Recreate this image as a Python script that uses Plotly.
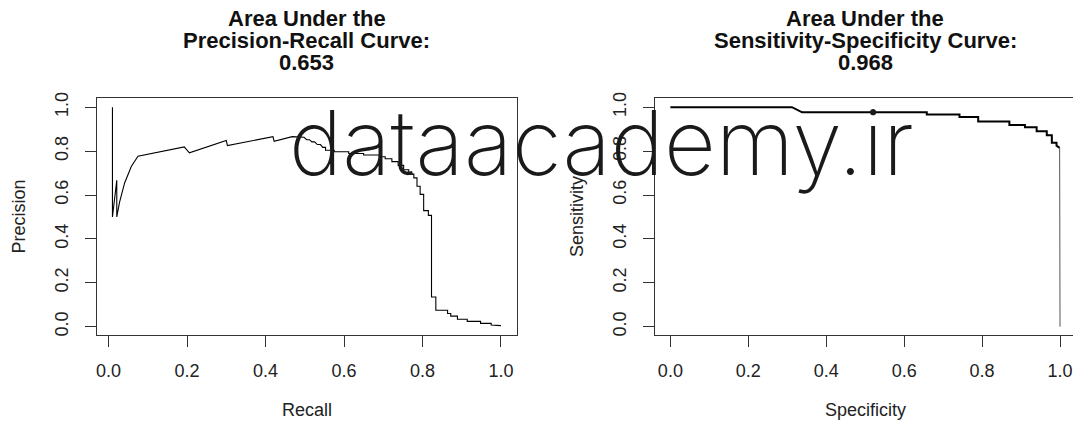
import plotly.graph_objects as go

# ---- data ----
recall = [0.010, 0.010, 0.021, 0.021, 0.028, 0.041, 0.058, 0.075, 0.193, 0.206,
          0.300, 0.303, 0.419, 0.422, 0.468, 0.498, 0.505, 0.512, 0.518, 0.525,
          0.532, 0.540, 0.546, 0.553, 0.553, 0.575, 0.575, 0.612, 0.612, 0.650,
          0.650, 0.690, 0.690, 0.705, 0.705, 0.722, 0.722, 0.738, 0.738, 0.752,
          0.752, 0.765, 0.765, 0.778, 0.778, 0.786, 0.786, 0.794, 0.794, 0.803,
          0.803, 0.815, 0.815, 0.823, 0.823, 0.834, 0.834, 0.864, 0.864, 0.872,
          0.872, 0.889, 0.889, 0.914, 0.914, 0.948, 0.948, 0.975, 0.975, 1.000]
precision = [1.000, 0.500, 0.667, 0.500, 0.566, 0.655, 0.730, 0.777, 0.819, 0.792,
             0.848, 0.825, 0.866, 0.845, 0.866, 0.863, 0.852, 0.852, 0.842, 0.842,
             0.830, 0.830, 0.817, 0.817, 0.804, 0.804, 0.797, 0.797, 0.789, 0.789,
             0.782, 0.782, 0.774, 0.774, 0.765, 0.765, 0.752, 0.752, 0.735, 0.735,
             0.715, 0.715, 0.695, 0.695, 0.678, 0.678, 0.640, 0.640, 0.603, 0.603,
             0.529, 0.529, 0.507, 0.507, 0.135, 0.135, 0.075, 0.075, 0.060, 0.060,
             0.048, 0.048, 0.034, 0.034, 0.024, 0.024, 0.015, 0.015, 0.008, 0.005]

specificity = [0.000, 0.312, 0.338, 0.658, 0.658, 0.742, 0.742, 0.790, 0.790, 0.870,
               0.870, 0.910, 0.910, 0.940, 0.940, 0.966, 0.966, 0.979, 0.979, 0.991,
               0.991, 0.999, 1.000]
sensitivity = [1.000, 1.000, 0.977, 0.977, 0.967, 0.967, 0.955, 0.955, 0.935, 0.935,
               0.919, 0.919, 0.909, 0.909, 0.890, 0.890, 0.872, 0.872, 0.838, 0.838,
               0.825, 0.815, 0.000]

tick_vals = [0.0, 0.2, 0.4, 0.6, 0.8, 1.0]
tick_text = ["0.0", "0.2", "0.4", "0.6", "0.8", "1.0"]

titles = [["Area Under the", "Precision-Recall Curve:", "0.653"],
          ["Area Under the", "Sensitivity-Specificity Curve:", "0.968"]]
x_titles = ["Recall", "Specificity"]
y_titles = ["Precision", "Sensitivity"]
watermark = "dataacademy.ir"

# ---- layout geometry (pixels) ----
W, H = 1073, 423
def px(x):
    return x / W
def py(y):
    return 1 - y / H

FONT = "Liberation Sans, Arial, Helvetica, sans-serif"
INK = "#222222"

fig = go.Figure()
fig.add_trace(go.Scatter(x=recall, y=precision, mode="lines",
                         line=dict(color="black", width=1.1),
                         xaxis="x", yaxis="y", showlegend=False))
n_top = len(specificity) - 1
fig.add_trace(go.Scatter(x=specificity[:n_top], y=sensitivity[:n_top], mode="lines",
                         line=dict(color="black", width=2),
                         xaxis="x2", yaxis="y2", showlegend=False))
fig.add_trace(go.Scatter(x=specificity[n_top - 1:], y=sensitivity[n_top - 1:], mode="lines",
                         line=dict(color="#555555", width=1),
                         xaxis="x2", yaxis="y2", showlegend=False))

axis_common = dict(showline=True, linecolor="#333333", linewidth=1,
                   ticks="outside", ticklen=11, tickcolor="#333333", tickwidth=1,
                   tickfont=dict(family=FONT, size=18, color=INK),
                   showgrid=False, zeroline=False,
                   tickvals=tick_vals, ticktext=tick_text, fixedrange=True)

y_dom = [py(335), py(94)]
fig.update_layout(
    width=W, height=H,
    margin=dict(l=0, r=0, t=0, b=0),
    paper_bgcolor="white", plot_bgcolor="white",
    xaxis=dict(domain=[px(96), px(516)], range=[-0.0296, 1.0396], anchor="y",
               mirror=True, ticklabelstandoff=8, **axis_common),
    yaxis=dict(domain=y_dom, range=[-0.04, 1.04], anchor="x",
               mirror=True, tickangle=-90, ticklabelstandoff=10, **axis_common),
    xaxis2=dict(domain=[px(655), 1.0], range=[-0.0385, 1.0333], anchor="y2",
                mirror=True, ticklabelstandoff=8, **axis_common),
    yaxis2=dict(domain=y_dom, range=[-0.04, 1.04], anchor="x2",
                tickangle=-90, ticklabelstandoff=10, **axis_common),
)

ann = []
centers = [306, 865]
for c, lines in zip(centers, titles):
    for i, t in enumerate(lines):
        ann.append(dict(text=f"<b>{t}</b>", x=px(c), y=py(13 + 22 * i),
                        xref="paper", yref="paper", showarrow=False,
                        xanchor="center", yanchor="middle",
                        font=dict(family=FONT, size=22, color="#111111")))
for c, t in zip(centers, x_titles):
    ann.append(dict(text=t, x=px(c), y=py(411), xref="paper", yref="paper",
                    showarrow=False, xanchor="center", yanchor="middle",
                    font=dict(family=FONT, size=18, color=INK)))
for xpix, t in zip([18, 577], y_titles):
    ann.append(dict(text=t, x=px(xpix), y=py(214), xref="paper", yref="paper",
                    showarrow=False, xanchor="center", yanchor="middle", textangle=-90,
                    font=dict(family=FONT, size=18, color=INK)))
ann.append(dict(text=watermark, x=px(601), y=py(139), xref="paper", yref="paper",
                showarrow=False, xanchor="center", yanchor="middle",
                font=dict(family="Inter, Open Sans", size=90, color="#1a1a1a", weight=200)))
fig.update_layout(annotations=ann)

fig.write_html("out.html",
               config={"displayModeBar": False},
               post_script="document.body.style.margin='0px';document.body.style.overflow='hidden';")
